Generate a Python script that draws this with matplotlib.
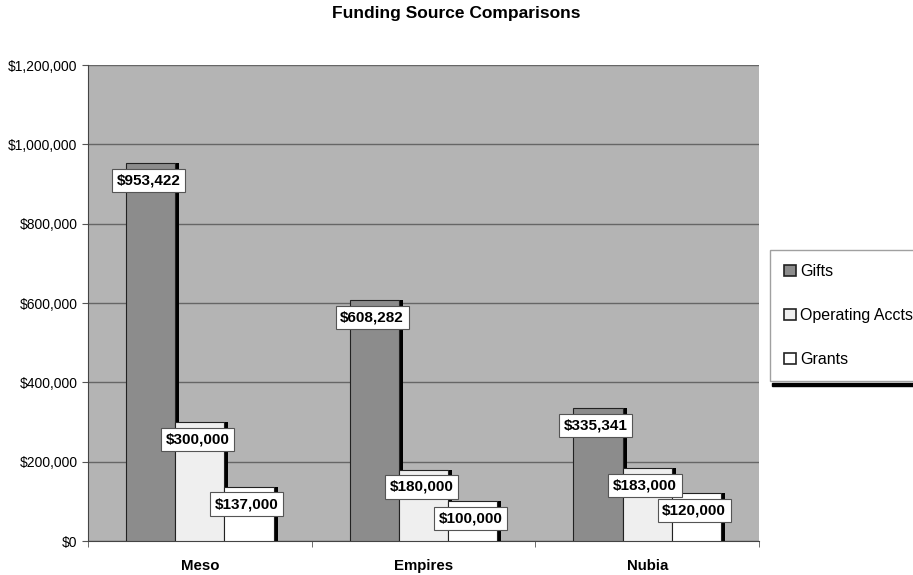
import numpy as np
import matplotlib.pyplot as plt
from matplotlib.patches import Rectangle

plt.rcParams['font.family'] = ['Liberation Sans', 'DejaVu Sans']

categories = ["Meso", "Empires", "Nubia"]
series = ["Gifts", "Operating Accts", "Grants"]
gifts = [953422, 608282, 335341]
operating = [300000, 180000, 183000]
grants = [137000, 100000, 120000]
yticks = [0, 200000, 400000, 600000, 800000, 1000000, 1200000]

colors = ["#8c8c8c", "#efefef", "#ffffff"]

fig = plt.figure(figsize=(9.13, 5.75), dpi=100)
ax = fig.add_axes([0.0964, 0.0591, 0.7350, 0.8278])
ax.set_facecolor("#b4b4b4")

x = np.arange(len(categories))
w = 0.22
offsets = [-w, 0, w]
handles = []
for vals, off, col, name in zip([gifts, operating, grants], offsets, colors, series):
    # black shadow to the right
    ax.bar(x + off + 0.018, vals, w, color="black", zorder=2)
    b = ax.bar(x + off, vals, w, color=col, edgecolor="#222222", linewidth=0.8,
               zorder=3, label=name)
    handles.append(b)
    for xi, v in zip(x + off, vals):
        ax.annotate(f"${v:,.0f}", (xi - 0.01, v), xytext=(0, -12.5),
                    textcoords="offset points", ha="center", va="center",
                    fontsize=11, fontweight="bold", zorder=5,
                    bbox=dict(boxstyle="square,pad=0.3", fc="white", ec="#555555", lw=0.8))

ax.set_ylim(0, 1200000)
ax.set_xlim(-0.5, len(categories) - 0.5)
ax.set_yticks(yticks)
ax.set_yticklabels([f"${v:,.0f}" for v in yticks], fontsize=10)
ax.yaxis.grid(True, color="#666666", linewidth=1)
ax.set_axisbelow(True)
ax.set_xticks(x)
ax.set_xticklabels(categories, fontsize=10.8, fontweight="bold")
ax.tick_params(axis="x", length=0, pad=13)
ax.set_xticks(np.arange(-0.5, len(categories)), minor=True)
ax.tick_params(axis="x", which="minor", length=4, color="#555555")
ax.tick_params(axis="y", length=4, color="#555555")
for side in ["top", "right"]:
    ax.spines[side].set_visible(False)
ax.spines["left"].set_color("#444444")
ax.spines["bottom"].set_color("#444444")

fig.suptitle("Funding Source Comparisons", fontsize=12.5, fontweight="bold", y=0.99)

leg = fig.legend(handles, series, loc="upper left",
                 bbox_to_anchor=(770 / 913, 1 - 250 / 575), fontsize=11.5,
                 frameon=True, fancybox=False, edgecolor="#888888",
                 handlelength=0.7, handleheight=0.7, handletextpad=0.3,
                 labelspacing=1.8, borderpad=0.9, borderaxespad=0)
for h in leg.legend_handles:
    h.set_edgecolor("#222222")
    h.set_linewidth(1.2)

# thick shadow line under the legend box
fig.patches.append(Rectangle((772 / 913, 1 - 386 / 575), 0.2, 3.5 / 575,
                             transform=fig.transFigure, color="black", zorder=6))

fig.savefig("out.png", dpi=100)
